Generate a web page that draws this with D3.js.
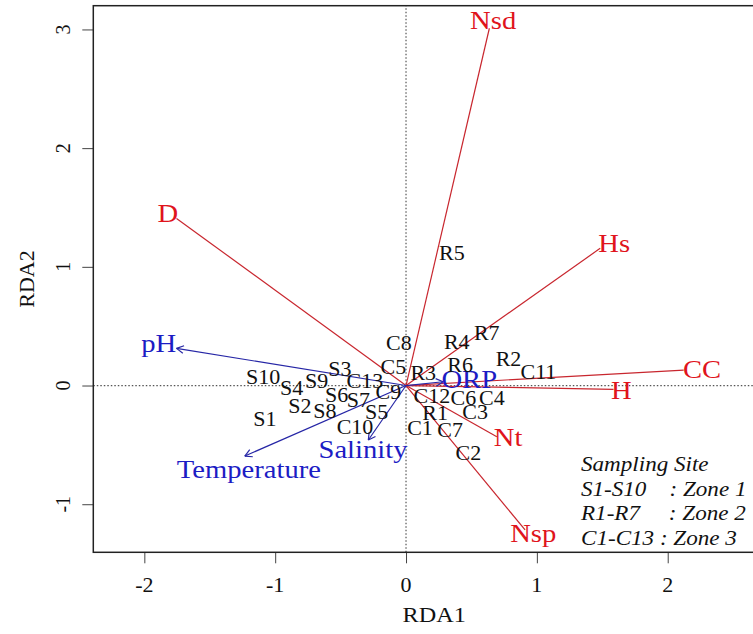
<!DOCTYPE html>
<html>
<head>
<meta charset="utf-8">
<script src="https://cdn.jsdelivr.net/npm/d3@7"></script>
<style>
  body { margin: 0; background: #fff; }
  svg text { font-family: "Liberation Serif", "Times New Roman", serif; }
</style>
</head>
<body>
<div id="chart"></div>
<script>
// RDA biplot: sites + fitted variables

// Site scores (RDA1, RDA2)
const siteNames = ['S1', 'S2', 'S3', 'S4', 'S5', 'S6', 'S7', 'S8', 'S9', 'S10',
    'R1', 'R2', 'R3', 'R4', 'R5', 'R6', 'R7',
    'C1', 'C2', 'C3', 'C4', 'C5', 'C6', 'C7', 'C8', 'C9', 'C10', 'C11', 'C12', 'C13'];
const siteX = [-1.079, -0.811, -0.505, -0.875, -0.224, -0.530, -0.365, -0.620, -0.683, -1.092,
    0.222, 0.783, 0.132, 0.388, 0.350, 0.413, 0.617,
    0.107, 0.477, 0.528, 0.656, -0.097, 0.438, 0.337, -0.054, -0.135, -0.390, 1.012, 0.197, -0.314];
const siteY = [-0.285, -0.173, 0.136, -0.024, -0.221, -0.080, -0.122, -0.212, 0.040, 0.069,
    -0.234, 0.221, 0.103, 0.369, 1.114, 0.173, 0.445,
    -0.361, -0.571, -0.221, -0.108, 0.158, -0.108, -0.375, 0.356, -0.052, -0.352, 0.116, -0.088, 0.040];

// Red vectors (line end, label position)
const redNames = ['Nsd', 'Hs', 'D', 'CC', 'H', 'Nt', 'Nsp'];
const redX = [0.637, 1.484, -1.754, 2.122, 1.586, 0.694, 0.910];
const redY = [3.010, 1.156, 1.408, 0.130, -0.032, -0.431, -1.217];
const redLabelX = [0.666, 1.591, -1.821, 2.262, 1.645, 0.780, 0.972];
const redLabelY = [3.079, 1.200, 1.453, 0.139, -0.038, -0.434, -1.242];

// Blue vectors (with arrow heads)
const blueNames = ['pH', 'Temperature', 'Salinity', 'ORP'];
const blueX = [-1.754, -1.232, -0.288, 0.283];
const blueY = [0.313, -0.594, -0.459, 0.032];
const blueLabelX = [-1.890, -1.201, -0.329, 0.483];
const blueLabelY = [0.358, -0.703, -0.535, 0.060];

// Axis ticks
const xTicks = [-2, -1, 0, 1, 2];
const yTicks = [-1, 0, 1, 2, 3];

// Legend lines
const legendLines = ['Sampling Site', 'S1-S10    : Zone 1', 'R1-R7     : Zone 2', 'C1-C13 : Zone 3'];

const width = 753;
const height = 634;
const stretch = 1.1; // the picture is a bit wider than tall

const svg = d3.select('#chart')
    .append('svg')
    .attr('width', width)
    .attr('height', height);

// Scales (the right edge of the box lies past the window)
const x = d3.scaleLinear().domain([-2.39, 2.82]).range([93.3, 775]);
const y = d3.scaleLinear().domain([-1.405, 3.2]).range([552.3, 5.7]);

const red = '#c8262e';
const redText = '#e0141c';
const blue = '#2626a6';
const blueText = '#1c1cc4';

// helper for horizontally stretched text
function label(g, px, py, txt, size, color, style) {
    return g.append('text')
        .attr('transform', `translate(${px},${py}) scale(${stretch},1)`)
        .attr('text-anchor', 'middle')
        .attr('dy', '0.35em')
        .attr('font-size', size)
        .attr('font-style', style || 'normal')
        .attr('fill', color)
        .text(txt);
}

// Zero lines
svg.append('line')
    .attr('x1', x(0)).attr('x2', x(0))
    .attr('y1', y.range()[0]).attr('y2', y.range()[1])
    .attr('stroke', '#555').attr('stroke-dasharray', '1.5,2').attr('stroke-width', 1.2);
svg.append('line')
    .attr('x1', x.range()[0]).attr('x2', x.range()[1])
    .attr('y1', y(0)).attr('y2', y(0))
    .attr('stroke', '#555').attr('stroke-dasharray', '1.5,2').attr('stroke-width', 1.2);

// Axes
const xAxis = svg.append('g')
    .attr('transform', `translate(0,${y.range()[0]})`)
    .call(d3.axisBottom(x).tickValues(xTicks).tickSize(11).tickFormat(d3.format('d')));
xAxis.select('.domain').remove();
xAxis.selectAll('line').attr('stroke', '#444');
xAxis.selectAll('text').remove();
xTicks.forEach(t => label(svg, x(t), 585, String(t), 20, '#111'));

const yAxis = svg.append('g')
    .attr('transform', `translate(${x.range()[0]},0)`)
    .call(d3.axisLeft(y).tickValues(yTicks).tickSize(11).tickFormat(d3.format('d')));
yAxis.select('.domain').remove();
yAxis.selectAll('line').attr('stroke', '#444');
yAxis.selectAll('text').remove();
yTicks.forEach(t => {
    svg.append('text')
        .attr('transform', `translate(63,${y(t)}) rotate(-90)`)
        .attr('text-anchor', 'middle')
        .attr('dy', '0.35em')
        .attr('font-size', 20)
        .attr('fill', '#111')
        .text(t);
});

// Axis titles
label(svg, (x.range()[0] + x.range()[1]) / 2, 614, 'RDA1', 22, '#111');
svg.append('text')
    .attr('transform', `translate(26,${(y.range()[0] + y.range()[1]) / 2}) rotate(-90)`)
    .attr('text-anchor', 'middle')
    .attr('dy', '0.35em')
    .attr('font-size', 22)
    .attr('fill', '#111')
    .text('RDA2');

// Red vectors
const redGroup = svg.append('g');
redNames.forEach((n, i) => {
    redGroup.append('line')
        .attr('x1', x(0)).attr('y1', y(0))
        .attr('x2', x(redX[i])).attr('y2', y(redY[i]))
        .attr('stroke', red).attr('stroke-width', 1.2);
});

// Blue vectors with heads
const blueGroup = svg.append('g');
blueNames.forEach((n, i) => {
    const x1 = x(blueX[i]), y1 = y(blueY[i]);
    blueGroup.append('line')
        .attr('x1', x(0)).attr('y1', y(0))
        .attr('x2', x1).attr('y2', y1)
        .attr('stroke', blue).attr('stroke-width', 1.2);
    const ang = Math.atan2(y1 - y(0), x1 - x(0));
    const len = 8;
    [-0.5, 0.5].forEach(da => {
        blueGroup.append('line')
            .attr('x1', x1).attr('y1', y1)
            .attr('x2', x1 - len * Math.cos(ang + da))
            .attr('y2', y1 - len * Math.sin(ang + da))
            .attr('stroke', blue).attr('stroke-width', 1.2);
    });
});

// Site labels
const siteGroup = svg.append('g');
siteNames.forEach((n, i) => label(siteGroup, x(siteX[i]), y(siteY[i]), n, 20, '#111'));

// Vector labels
redNames.forEach((n, i) => label(redGroup, x(redLabelX[i]), y(redLabelY[i]), n, 26, redText));
blueNames.forEach((n, i) => label(blueGroup, x(blueLabelX[i]), y(blueLabelY[i]), n, 26, blueText));

// Legend
legendLines.forEach((t, i) => {
    svg.append('text')
        .attr('transform', `translate(581,${464 + i * 24.4}) scale(${stretch},1)`)
        .attr('dy', '0.35em')
        .attr('font-size', 21)
        .attr('font-style', 'italic')
        .attr('fill', '#111')
        .style('white-space', 'pre')
        .text(t);
});

// Plot box
svg.append('rect')
    .attr('x', x.range()[0]).attr('y', y.range()[1])
    .attr('width', x.range()[1] - x.range()[0])
    .attr('height', y.range()[0] - y.range()[1])
    .attr('fill', 'none').attr('stroke', '#222').attr('stroke-width', 1.5);
</script>
</body>
</html>
